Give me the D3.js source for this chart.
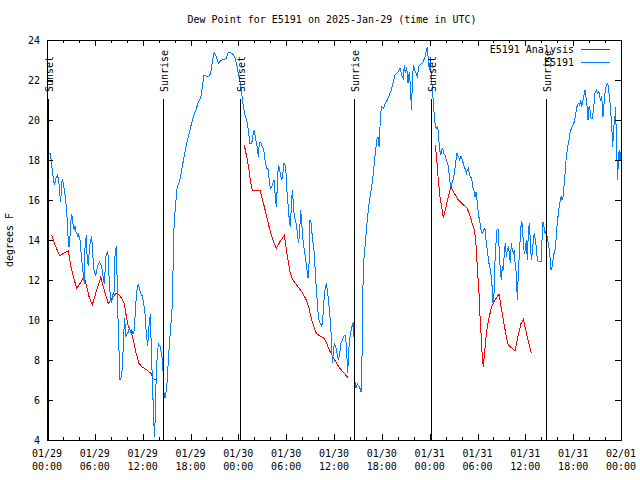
<!DOCTYPE html>
<html><head><meta charset="utf-8">
<script src="https://cdn.jsdelivr.net/npm/d3@7"></script>
<style>
body{margin:0;background:#fff}
svg text{font-family:"DejaVu Sans Mono","Liberation Mono",monospace;font-size:10px;fill:#000}
</style>
</head><body><svg id="c" width="640" height="480"></svg>
<script>
const chartTitle = "Dew Point for E5191 on 2025-Jan-29 (time in UTC)";
const yAxisLabel = "degrees F";
const xTickHours = [0,6,12,18,24,30,36,42,48,54,60,66,72];
const xTickDates = ["01/29","01/29","01/29","01/29","01/30","01/30","01/30","01/30","01/31","01/31","01/31","01/31","02/01"];
const xTickTimes = ["00:00","06:00","12:00","18:00","00:00","06:00","12:00","18:00","00:00","06:00","12:00","18:00","00:00"];
const yTicks = [4,6,8,10,12,14,16,18,20,22,24];
const sunHours = [0.16,14.59,24.25,38.55,48.2,62.63];
const sunLabels = ["Sunset","Sunrise","Sunset","Sunrise","Sunset","Sunrise"];
const sunLineTopF = 21.05;
const seriesNames = ["E5191 Analysis","E5191"];
const seriesColors = ["#ff0000","#0080ff"];

// observed dew point (hours since 01/29 00:00 UTC, degrees F)
const obsHours = [
0,0.25,0.44,0.63,0.82,0.94,1.13,1.29,1.47,1.63,1.72,1.84,1.97,2.13,2.35,2.47,2.60,2.67,2.80,2.89,
3.01,3.10,3.30,3.42,3.51,3.64,3.85,3.93,4.14,4.35,4.55,4.68,4.77,4.93,5.06,5.18,5.39,5.61,5.73,5.90,
6.11,6.36,6.56,6.77,6.94,7.06,7.19,7.40,7.56,7.69,7.81,7.99,8.12,8.24,8.40,8.53,8.69,8.82,8.94,9.16,
9.37,9.50,9.62,9.75,9.87,10.04,10.20,10.32,10.50,10.62,10.79,10.95,11.13,11.29,11.45,11.63,11.79,11.95,12.13,12.29,
12.46,12.63,12.80,12.96,13.13,13.26,13.38,13.51,13.64,13.80,13.96,14.17,14.39,14.51,14.68,14.80,15.02,15.22,15.39,15.77,
15.84,15.97,16.18,16.34,16.60,16.90,17.19,17.44,17.73,18.03,18.35,18.69,18.98,19.28,19.48,19.69,20.03,20.32,20.53,20.74,
20.95,21.20,21.49,21.79,22.12,22.45,22.74,23.04,23.29,23.55,23.80,24.00,24.21,24.42,24.62,24.84,25.05,25.25,25.46,25.68,
25.88,26.00,26.18,26.34,26.51,26.63,26.81,27.01,27.18,27.35,27.56,27.76,27.89,28.01,28.19,28.39,28.51,28.64,28.76,28.89,
29.01,29.14,29.27,29.44,29.57,29.73,29.85,29.98,30.14,30.27,30.39,30.52,30.65,30.77,30.90,31.02,31.15,31.32,31.45,31.57,
31.70,31.82,31.95,32.11,32.28,32.45,32.61,32.74,32.87,32.99,33.12,33.24,33.37,33.53,33.71,33.83,33.96,34.12,34.28,34.46,
34.58,34.71,34.87,35.04,35.21,35.38,35.54,35.66,35.79,35.91,36.04,36.21,36.38,36.54,36.72,36.88,37.04,37.22,37.38,37.54,
37.72,37.85,38.01,38.17,38.30,38.42,38.51,38.57,38.67,38.80,38.92,39.18,39.39,39.51,39.60,39.77,39.93,40.10,40.30,40.52,
40.73,40.93,41.14,41.36,41.52,41.65,41.77,41.93,42.19,42.44,42.69,42.94,43.19,43.44,43.65,43.87,44.07,44.28,44.49,44.70,
44.82,44.95,45.12,45.28,45.45,45.62,45.70,45.82,45.95,46.12,46.29,46.45,46.63,46.79,47.00,47.20,47.42,47.54,47.71,47.83,
47.96,48.08,48.21,48.33,48.46,48.58,48.71,48.88,49.01,49.13,49.26,49.39,49.51,49.64,49.76,49.93,50.09,50.26,50.39,50.51,
50.64,50.77,50.93,51.09,51.27,51.43,51.59,51.77,51.93,52.10,52.27,52.43,52.60,52.72,52.85,52.97,53.10,53.27,53.40,53.53,
53.69,53.81,53.94,54.10,54.28,54.44,54.60,54.78,54.94,55.11,55.28,55.44,55.61,55.78,55.95,56.07,56.20,56.32,56.45,56.61,
56.74,56.86,56.99,57.11,57.24,57.36,57.49,57.62,57.74,57.87,57.99,58.12,58.24,58.37,58.49,58.62,58.74,58.87,58.99,59.12,
59.25,59.37,59.50,59.62,59.75,59.87,60.00,60.12,60.25,60.37,60.50,60.63,60.75,60.88,61.00,61.13,61.25,61.38,61.50,61.63,
61.80,61.97,62.09,62.22,62.34,62.47,62.59,62.72,62.88,63.06,63.22,63.35,63.47,63.60,63.72,63.85,63.97,64.14,64.31,64.48,
64.60,64.73,64.85,64.98,65.14,65.32,65.48,65.64,65.82,65.98,66.15,66.32,66.48,66.65,66.82,66.95,67.07,67.20,67.32,67.49,
67.61,67.74,67.86,67.99,68.11,68.24,68.40,68.58,68.74,68.90,69.08,69.24,69.41,69.58,69.74,69.87,69.99,70.16,70.34,70.50,
70.66,70.84,70.96,71.09,71.21,71.34,71.41,71.50,71.59,71.67,71.79,71.88,72.00
];
const obsDewF = [
18.2,18.35,18.3,17.6,17.0,16.75,17.1,17.25,17.0,16.2,15.9,16.9,17.0,16.6,16.0,15.3,14.8,13.65,13.7,14.2,
15.0,15.3,14.7,14.5,14.7,14.4,14.2,14.3,14.0,13.0,12.3,11.8,13.65,14.25,12.9,12.8,13.8,14.2,13.3,12.5,
12.2,12.7,12.9,12.75,12.5,12.1,11.8,13.2,13.4,13.2,11.85,11.0,10.9,11.25,11.3,13.2,13.7,11.65,9.5,7.0,
7.2,8.0,9.3,10.1,9.2,9.3,9.4,9.6,9.4,9.5,9.3,9.5,10.8,11.5,11.8,11.5,11.3,11.2,10.8,10.3,
9.3,8.7,9.7,10.3,8.0,6.5,5.0,4.17,6.5,8.0,8.8,8.7,8.3,7.8,6.3,6.1,6.6,8.0,9.0,11.0,
13.67,15.0,16.0,16.67,16.9,17.5,18.17,18.67,19.17,19.67,20.17,20.5,20.9,21.1,21.67,22.25,22.17,22.2,22.33,22.9,
23.37,23.2,22.83,22.97,23.03,23.07,23.37,23.37,23.3,23.17,22.75,22.33,21.9,21.33,20.7,20.25,20.0,19.5,18.83,18.83,
19.33,19.5,19.0,18.7,18.17,18.83,18.9,18.67,18.5,18.0,17.6,17.5,16.9,16.58,16.67,16.9,17.0,16.1,15.67,16.67,
17.75,17.6,17.33,17.0,17.25,17.83,17.75,17.33,16.17,15.67,15.0,14.67,15.67,16.5,15.83,15.17,15.0,14.67,14.17,13.83,
14.5,15.5,14.83,14.0,13.5,13.0,12.5,12.1,12.83,15.0,14.83,14.33,13.83,13.33,12.0,11.33,10.5,10.0,9.83,9.67,
10.0,10.83,11.5,11.83,11.33,10.67,10.0,9.17,7.83,8.33,8.83,8.67,8.33,8.0,8.33,8.83,9.0,9.17,9.25,8.83,
7.33,8.5,9.17,9.5,9.75,9.92,9.17,6.0,6.9,6.6,6.8,6.67,6.42,8.0,11.33,13.17,13.83,14.67,15.5,16.17,
16.67,17.33,18.17,19.0,19.17,18.67,19.67,20.67,20.58,20.83,21.0,21.25,21.5,21.92,22.25,22.33,22.42,22.58,22.25,22.08,
22.75,22.33,22.67,21.83,22.42,21.5,20.5,21.67,22.75,22.5,22.33,22.17,22.67,22.75,22.83,22.92,23.17,23.4,23.67,23.0,
22.5,23.0,22.17,21.67,20.83,20.25,19.67,19.58,19.67,19.08,18.5,18.25,18.5,18.58,18.33,18.25,18.0,17.83,17.5,17.0,
16.67,16.83,17.0,17.33,17.92,18.33,18.17,18.0,18.2,18.0,17.75,17.58,17.33,17.5,17.58,17.33,17.17,17.08,16.67,16.5,
16.17,16.42,16.0,15.33,14.92,14.5,14.33,14.5,14.58,13.83,13.33,12.83,12.5,12.0,10.83,11.33,13.0,13.83,14.5,14.53,
13.33,12.5,12.0,12.67,12.5,13.33,13.83,13.17,13.5,13.67,13.33,12.83,13.83,13.5,13.33,13.5,12.67,12.33,11.0,12.33,
13.33,14.17,14.92,14.83,13.83,13.33,13.5,14.0,13.0,14.33,14.83,14.0,13.0,13.33,14.0,14.33,14.0,13.67,13.0,12.92,
12.92,12.92,14.0,14.92,14.67,14.33,14.42,14.17,13.83,13.33,12.5,12.67,13.0,13.33,13.5,14.0,14.67,15.33,15.83,16.17,
16.0,16.17,16.67,17.33,18.17,18.67,19.0,19.42,19.63,19.75,19.92,20.33,20.67,20.83,20.75,21.0,20.67,20.92,21.17,21.5,
21.17,20.67,20.0,20.67,20.5,20.08,20.08,20.67,21.33,21.5,21.33,21.42,21.0,21.17,20.17,20.83,21.33,21.75,21.83,21.33,
20.67,19.67,18.67,19.67,20.0,20.67,19.0,18.0,17.0,18.17,18.5,18.0,18.4
];

// analysis dew point, three overnight runs separated by null
const anaHours = [
0.59,1.00,1.63,2.04,2.67,3.01,3.30,3.73,4.14,4.64,4.98,5.27,5.68,6.11,6.74,7.06,7.36,7.69,8.12,8.66,
9.03,9.37,9.70,9.95,10.20,10.54,10.83,11.13,11.54,11.88,12.51,13.05,13.33,13.64,
null,
24.75,24.96,25.18,25.34,25.50,25.75,26.72,26.93,27.26,27.56,27.85,28.19,28.51,28.76,29.23,29.77,29.98,30.19,30.48,
30.77,31.32,31.95,32.49,32.87,33.20,33.49,33.78,34.25,34.66,35.09,35.41,35.84,36.34,36.75,37.29,37.72,
null,
48.71,48.88,49.01,49.17,49.34,49.51,49.71,50.01,50.34,50.68,51.09,51.59,52.10,52.65,52.97,53.27,53.60,53.78,53.90,54.03,
54.19,54.32,54.44,54.60,54.73,54.85,55.03,55.23,55.48,55.78,56.20,56.70,56.95,57.24,57.54,57.79,58.21,58.71,59.12,59.46,
59.75,60.05,60.37,60.75
];
const anaDewF = [
14.25,13.75,13.2,13.33,13.45,12.67,12.17,11.58,11.83,12.17,11.67,11.17,10.75,11.33,12.13,11.67,11.25,10.83,11.08,11.33,
11.25,11.08,10.83,10.17,9.67,9.42,9.0,8.42,7.83,7.67,7.5,7.33,7.08,7.0,
null,
18.75,18.33,17.9,17.5,17.0,16.47,16.47,16.17,15.67,15.17,14.67,14.17,13.83,13.58,13.92,14.23,13.67,13.08,12.42,
12.03,11.75,11.42,11.03,10.58,10.0,9.67,9.33,9.2,9.13,8.83,8.5,8.17,7.83,7.58,7.33,7.13,
null,
18.75,18.08,17.33,16.67,16.0,15.67,15.08,15.58,16.17,16.67,16.33,16.0,15.8,15.62,15.33,14.92,14.5,14.0,13.17,12.33,
11.33,10.17,9.33,8.17,7.67,8.17,9.0,9.67,10.17,10.67,11.0,11.3,10.67,10.0,9.33,8.8,8.63,8.47,9.25,9.83,
10.03,9.5,8.92,8.33
];

const L = 47, R = 621, T = 40, B = 440;
const svg = d3.select("#c");
const x = d3.scaleLinear().domain([0,72]).range([L,R]);
const y = d3.scaleLinear().domain([4,24]).range([B,T]);

const obs = obsHours.map((h,i)=>({h, v: obsDewF[i]}));
const ana = anaHours.map((h,i)=>({h, v: anaDewF[i]}));

// title and axis label
svg.append("text").attr("x", 332).attr("y", 23).attr("text-anchor","middle").text(chartTitle);
svg.append("text").attr("transform","translate(13,240) rotate(-90)").attr("text-anchor","middle").text(yAxisLabel);

// data lines
const line = d3.line().defined(d => d.h !== null && d.v !== null).x(d => x(d.h)).y(d => y(d.v));
svg.append("path").datum(ana).attr("fill","none").attr("stroke",seriesColors[0]).attr("stroke-width",1)
  .attr("shape-rendering","crispEdges").attr("d",line);
svg.append("path").datum(obs).attr("fill","none").attr("stroke",seriesColors[1]).attr("stroke-width",1)
  .attr("shape-rendering","crispEdges").attr("d",line);

// axes
const minorHours = d3.range(0,73,2).filter(h => h % 6 !== 0);
const gB = svg.append("g").attr("transform",`translate(0,${B})`)
  .call(d3.axisBottom(x).tickValues(xTickHours).tickSize(-6).tickFormat(""));
const gBm = svg.append("g").attr("transform",`translate(0,${B})`)
  .call(d3.axisBottom(x).tickValues(minorHours).tickSize(-3).tickFormat(""));
const gT = svg.append("g").attr("transform",`translate(0,${T})`)
  .call(d3.axisTop(x).tickValues(xTickHours).tickSize(-6).tickFormat(""));
const gTm = svg.append("g").attr("transform",`translate(0,${T})`)
  .call(d3.axisTop(x).tickValues(minorHours).tickSize(-3).tickFormat(""));
const gL = svg.append("g").attr("transform",`translate(${L},0)`)
  .call(d3.axisLeft(y).tickValues(yTicks).tickSize(-6).tickPadding(7).tickFormat(d3.format("d")));
const gR = svg.append("g").attr("transform",`translate(${R},0)`)
  .call(d3.axisRight(y).tickValues(yTicks).tickSize(-6).tickFormat(""));
[gB,gBm,gT,gTm,gL,gR].forEach(g => {
  g.select(".domain").remove();
  g.selectAll("line").attr("stroke","#000").attr("shape-rendering","crispEdges");
  g.selectAll("text").attr("font-family",null).attr("font-size",null).attr("fill","#000");
});
gL.selectAll("text").attr("dy","0.35em");

// two-line x labels
const xl = svg.append("g");
xTickHours.forEach((h,i) => {
  xl.append("text").attr("x", x(h)).attr("y", 457).attr("text-anchor","middle").text(xTickDates[i]);
  xl.append("text").attr("x", x(h)).attr("y", 470).attr("text-anchor","middle").text(xTickTimes[i]);
});

// frame
svg.append("rect").attr("x",L).attr("y",T).attr("width",R-L).attr("height",B-T)
  .attr("fill","none").attr("stroke","#000").attr("shape-rendering","crispEdges");

// sunrise / sunset markers
sunHours.forEach((h,i) => {
  svg.append("line").attr("x1",x(h)).attr("x2",x(h)).attr("y1",y(sunLineTopF)).attr("y2",B)
    .attr("stroke","#000").attr("stroke-width",1).attr("shape-rendering","crispEdges");
  svg.append("text").attr("transform",`translate(${x(h)+1},${y(sunLineTopF)-7}) rotate(-90)`)
    .attr("dy","0.35em").attr("text-anchor","start").text(sunLabels[i]);
});

// legend
seriesNames.forEach((n,i) => {
  const yy = 49 + i*13;
  svg.append("text").attr("x",574).attr("y",yy+4).attr("text-anchor","end").text(n);
  svg.append("line").attr("x1",581).attr("x2",610).attr("y1",yy).attr("y2",yy)
    .attr("stroke",seriesColors[i]).attr("stroke-width",1).attr("shape-rendering","crispEdges");
});
</script>
</body></html>
